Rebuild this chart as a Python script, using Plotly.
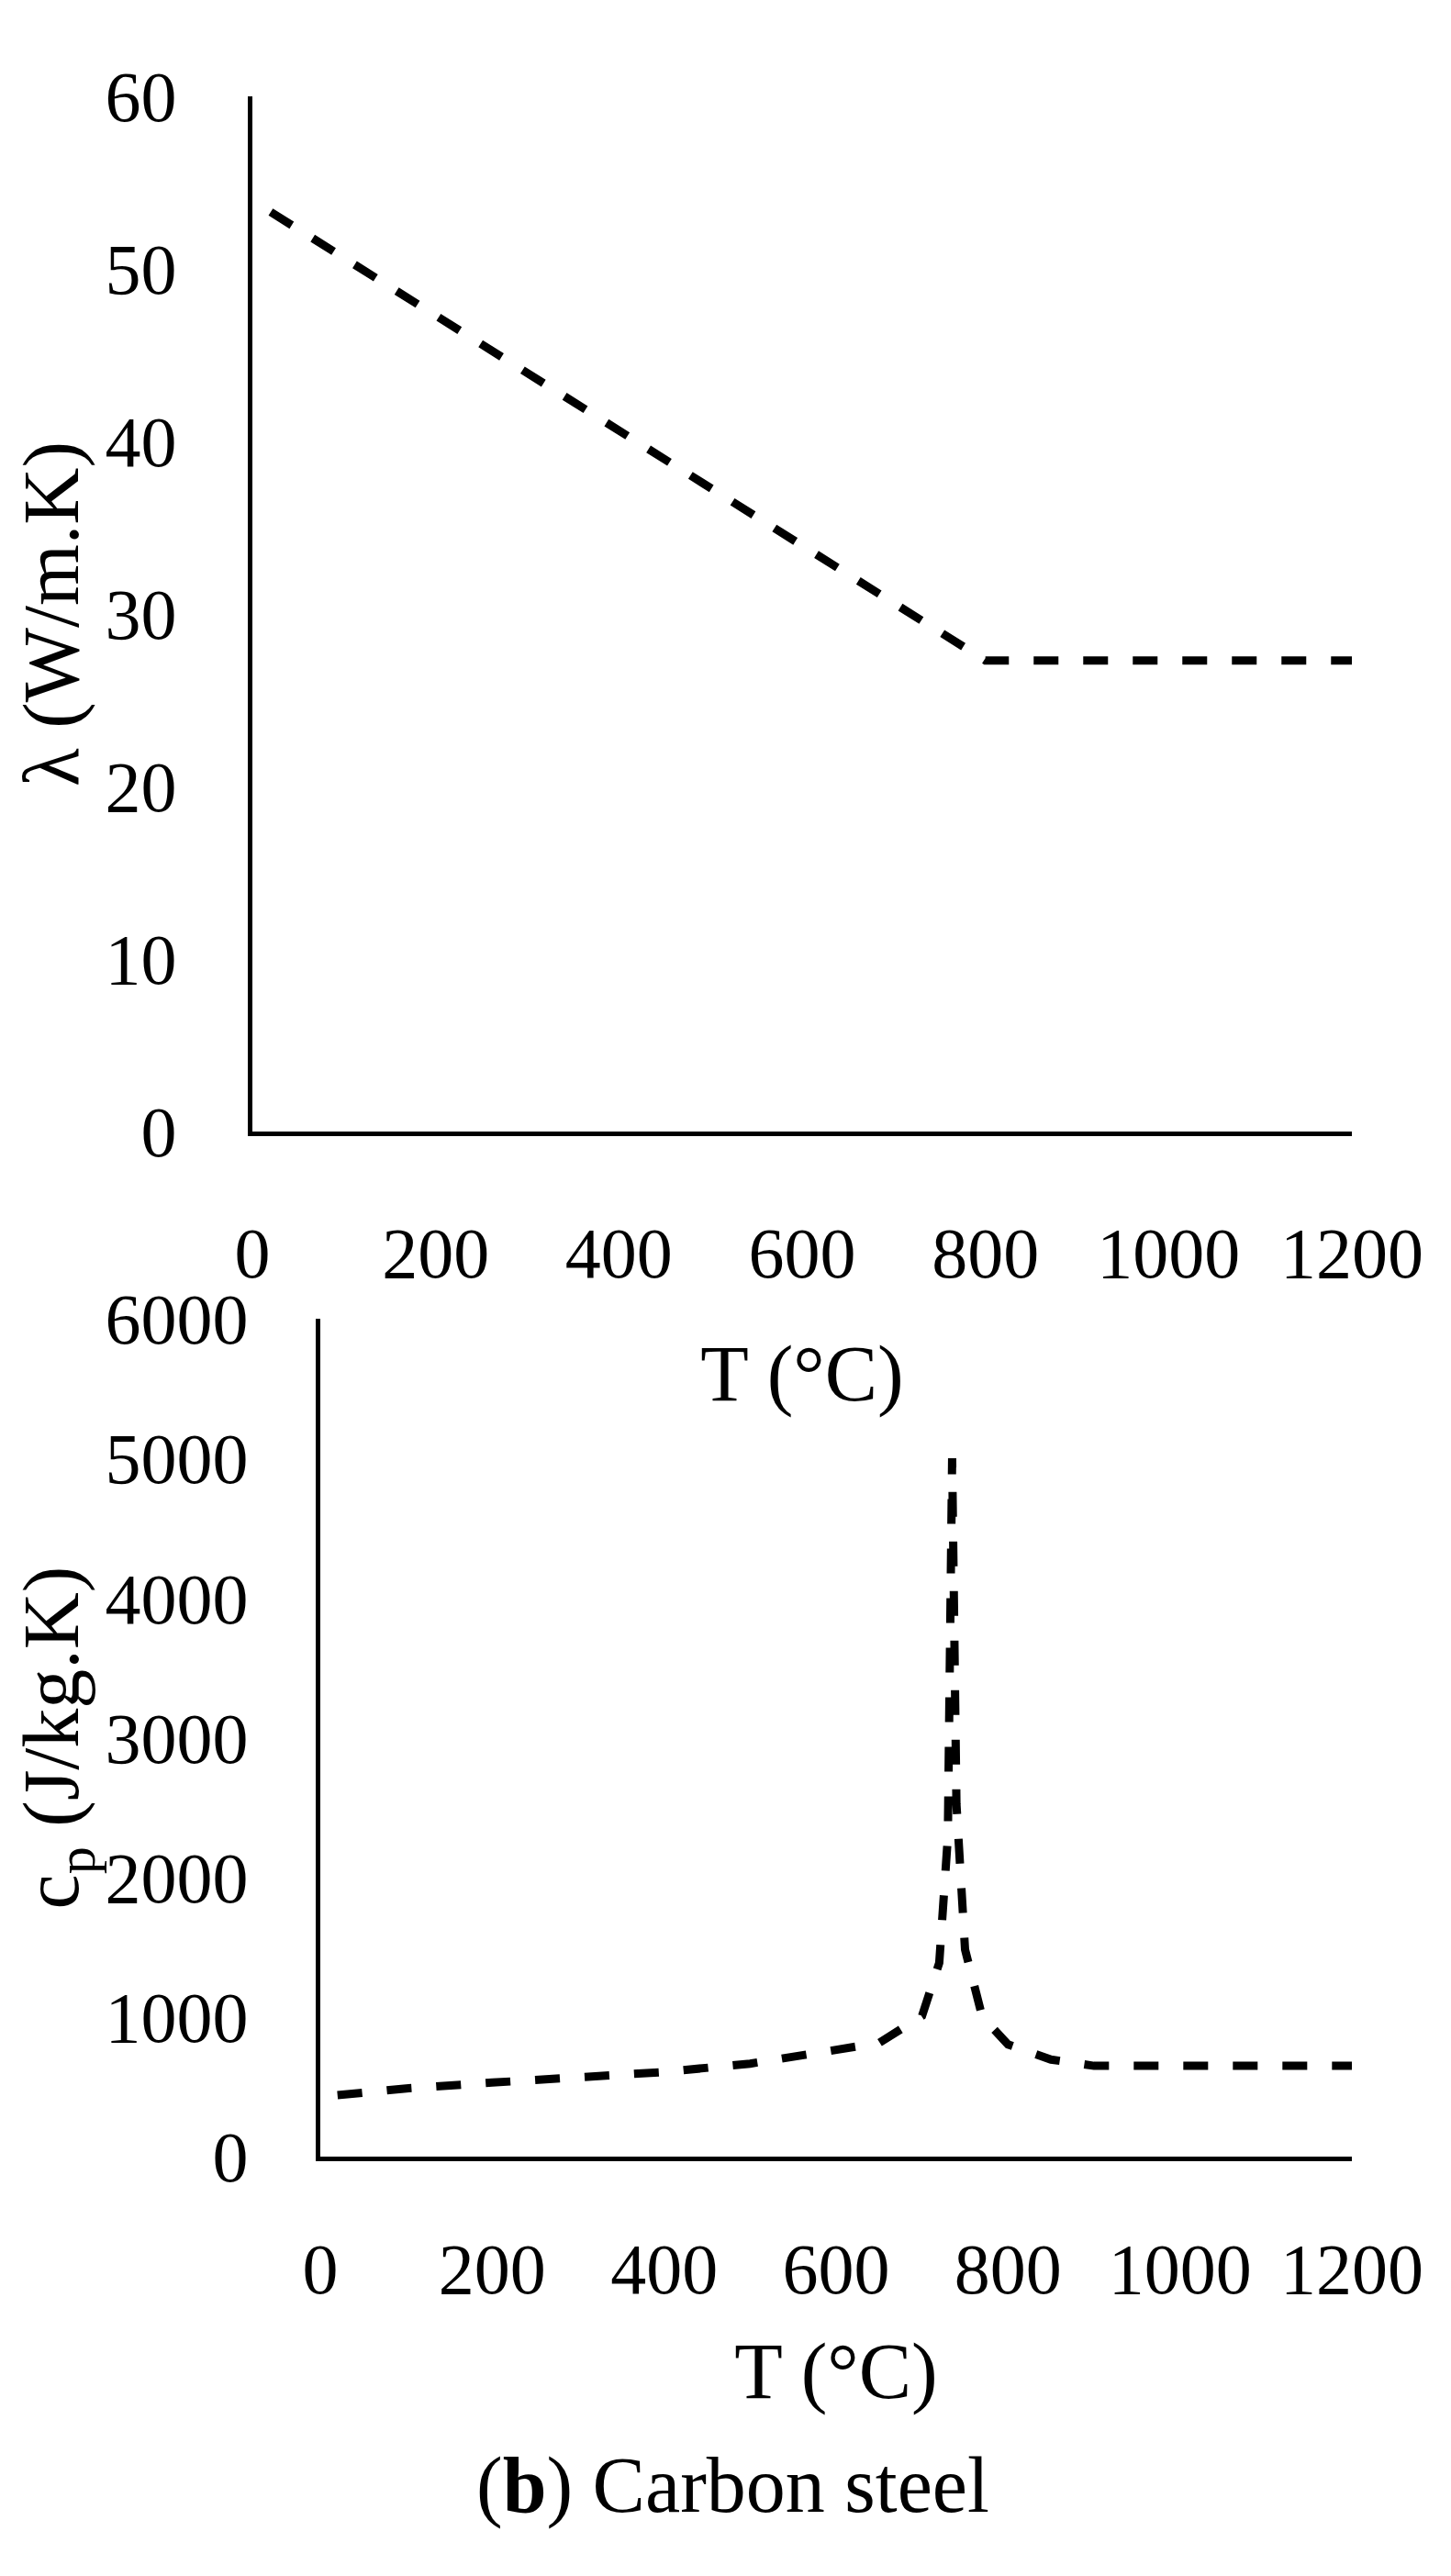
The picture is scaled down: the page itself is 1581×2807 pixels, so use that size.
import plotly.graph_objects as go

W, H = 1581, 2807
T_lam = [20, 800, 1200]
lam = [53.3, 27.3, 27.3]
T_cp = [20, 100, 200, 300, 400, 500, 600, 650, 700, 720, 730, 735, 740, 750, 770, 800, 850, 900, 1200]
cp = [440, 488, 530, 565, 606, 666, 760, 814, 1008, 1388, 2291, 5000, 2525, 1483, 1002, 803, 695, 650, 650]
x_ticks = [0, 200, 400, 600, 800, 1000, 1200]
lam_ticks = [0, 10, 20, 30, 40, 50, 60]
cp_ticks = [0, 1000, 2000, 3000, 4000, 5000, 6000]

FONT = "Liberation Serif"
fig = go.Figure()
fig.add_trace(go.Scatter(x=T_lam, y=lam, mode="lines", xaxis="x", yaxis="y",
                         line=dict(color="black", width=9, dash="dash"), showlegend=False))
fig.add_trace(go.Scatter(x=T_cp, y=cp, mode="lines", xaxis="x2", yaxis="y2",
                         line=dict(color="black", width=9, dash="dash"), showlegend=False))

# arrowheads at the axis ends
fig.add_trace(go.Scatter(x=[1212], y=[0], mode="markers", xaxis="x", yaxis="y", cliponaxis=False,
                         marker=dict(symbol="triangle-right", size=30, color="black"), showlegend=False))
fig.add_trace(go.Scatter(x=[0], y=[60.8], mode="markers", xaxis="x", yaxis="y", cliponaxis=False,
                         marker=dict(symbol="triangle-up", size=30, color="black"), showlegend=False))
fig.add_trace(go.Scatter(x=[1212], y=[0], mode="markers", xaxis="x2", yaxis="y2", cliponaxis=False,
                         marker=dict(symbol="triangle-right", size=30, color="black"), showlegend=False))
fig.add_trace(go.Scatter(x=[0], y=[6080], mode="markers", xaxis="x2", yaxis="y2", cliponaxis=False,
                         marker=dict(symbol="triangle-up", size=30, color="black"), showlegend=False))

def px(v): return v / W
def py(v): return (H - v) / H

tf = dict(family=FONT, size=78, color="black")
titf = dict(family=FONT, size=86, color="black")
common = dict(showgrid=False, zeroline=False, showline=True, linecolor="black", linewidth=5,
              ticks="", tickfont=tf, title_font=titf, automargin=False)

fig.update_layout(
    width=W, height=H, paper_bgcolor="white", plot_bgcolor="white",
    margin=dict(l=0, r=0, t=0, b=0),
    xaxis=dict(domain=[px(267), px(1465)], range=[0, 1200], tickvals=x_ticks,
               anchor="y", ticklabelstandoff=60, title=dict(text="T (°C)", standoff=60), **common),
    yaxis=dict(domain=[py(1225), py(97)], range=[0, 60], tickvals=lam_ticks,
               anchor="x", ticklabelstandoff=62, title=dict(text="λ (W/m.K)", standoff=30), **common),
    xaxis2=dict(domain=[px(341), px(1465)], range=[0, 1200], tickvals=x_ticks,
                anchor="y2", ticklabelstandoff=50, title=dict(text="T (°C)", standoff=40), **common),
    yaxis2=dict(domain=[py(2342), py(1429)], range=[0, 6000], tickvals=cp_ticks,
                anchor="x2", ticklabelstandoff=58, title=dict(text="c<sub>p</sub> (J/kg.K)", standoff=30), **common),
)

fig.add_annotation(text="(<b>b</b>) Carbon steel", xref="paper", yref="paper",
                   x=790 / W, y=py(2750), showarrow=False, font=dict(family=FONT, size=86, color="black"))
fig.write_html("out.html")
